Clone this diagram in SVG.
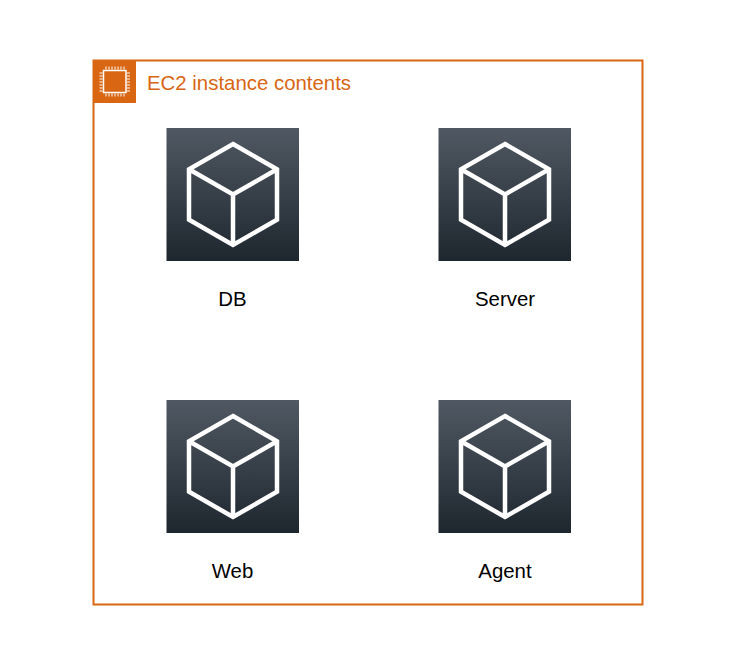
<svg xmlns="http://www.w3.org/2000/svg" xmlns:xlink="http://www.w3.org/1999/xlink" width="730" height="664" viewBox="0 0 730 664">
<style>
.lbl{font-family:"Liberation Sans",Arial,sans-serif;font-size:20.400px;fill:#000;text-anchor:middle}
.grp{font-family:"Liberation Sans",Arial,sans-serif;font-size:20.400px;fill:#d86613}
.cube{fill:none;stroke:#fff;stroke-width:4.500;stroke-linejoin:miter}
</style>
<defs>
<linearGradient id="g" x1="0" y1="0" x2="0" y2="1"><stop offset="0" stop-color="#505863"/><stop offset="1" stop-color="#1e262e"/></linearGradient>
<g id="res">
<rect width="132.500" height="133" fill="url(#g)"/>
<path class="cube" d="M66.500 16L110.500 41.300V91.700L66.500 117L22.500 91.700V41.300ZM22.500 41.300L66.500 66.500L110.500 41.300M66.500 66.500V117"/>
</g>
</defs>
<rect width="730" height="664" fill="#fff"/>
<g id="group">
<rect x="93.500" y="60.500" width="549" height="544" fill="none" stroke="#d86613" stroke-width="2"/>
<rect x="93" y="60" width="43" height="43" fill="#d86613"/>
<rect x="103.500" y="70.500" width="22.500" height="22" fill="none" stroke="#fff" stroke-width="1.500"/>
<path d="M106 69.500v-3M109 69.500v-3M112 69.500v-3M115 69.500v-3M118 69.500v-3M121 69.500v-3M124 69.500v-3M106 96.500v-3M109 96.500v-3M112 96.500v-3M115 96.500v-3M118 96.500v-3M121 96.500v-3M124 96.500v-3M102.500 73h-3M102.500 76h-3M102.500 79h-3M102.500 82h-3M102.500 85h-3M102.500 88h-3M102.500 91h-3M130 73h-3M130 76h-3M130 79h-3M130 82h-3M130 85h-3M130 88h-3M130 91h-3" stroke="#fff" stroke-width="1" fill="none"/>
<text class="grp" x="147" y="90">EC2 instance contents</text>
</g>
<g id="connectors"></g>
<g id="db"><use xlink:href="#res" href="#res" x="166.500" y="128"/><text class="lbl" x="232.500" y="306">DB</text></g>
<g id="server"><use xlink:href="#res" href="#res" x="438.500" y="128"/><text class="lbl" x="505" y="306">Server</text></g>
<g id="web"><use xlink:href="#res" href="#res" x="166.500" y="400"/><text class="lbl" x="232.500" y="578">Web</text></g>
<g id="agent"><use xlink:href="#res" href="#res" x="438.500" y="400"/><text class="lbl" x="505" y="578">Agent</text></g>
</svg>
